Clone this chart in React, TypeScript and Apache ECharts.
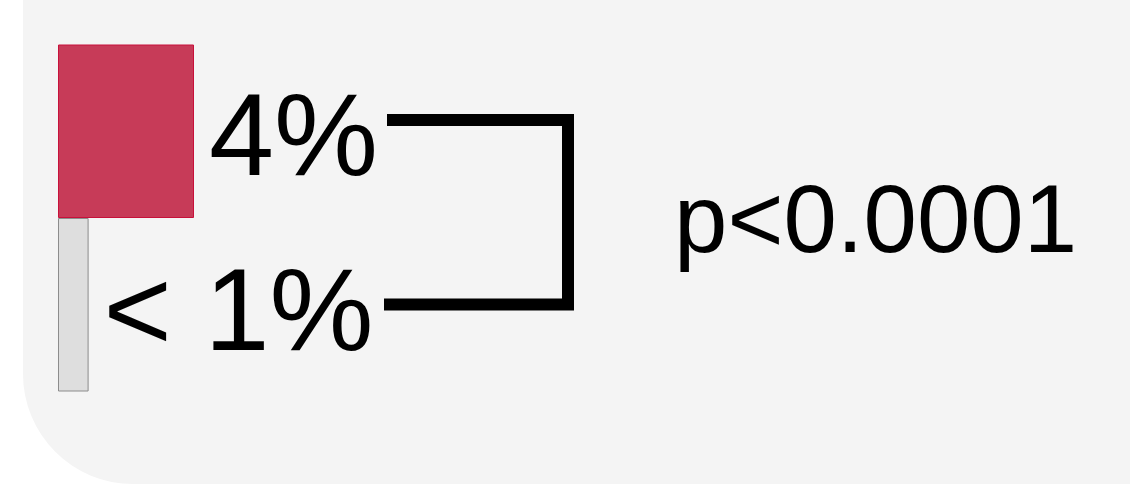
import React, { useEffect, useRef } from "react";
import * as echarts from "echarts";

const categories = ["4%", "< 1%"];
const values = [4, 0.9];
const barColors = ["#c73b58", "#dedede"];
const borderColors = ["#c8103a", "#8c8c8c"];
const labelOffsetsY = [3, 5];
const pValueText = "p<0.0001";

export default function App() {
  const ref = useRef<HTMLDivElement>(null);
  useEffect(() => {
    if (!ref.current) return;
    const chart = echarts.init(ref.current, undefined, { renderer: "svg" });
    const font = "'Liberation Sans', Arial, sans-serif";
    chart.setOption({
      animation: false,
      backgroundColor: "#ffffff",
      grid: { left: 58, top: 44.5, width: 340, height: 347, containLabel: false },
      xAxis: { type: "value", min: 0, max: 10, show: false },
      yAxis: { type: "category", data: categories, inverse: true, show: false },
      graphic: [
        {
          type: "rect",
          z: -10,
          shape: { x: 23, y: -200, width: 1300, height: 684, r: [0, 0, 0, 110] },
          style: { fill: "#f4f4f4" },
          silent: true,
        },
        {
          type: "polyline",
          shape: { points: [[387, 120], [568, 120], [568, 304.5], [384, 304.5]] },
          style: { stroke: "#000", lineWidth: 12, lineJoin: "miter", fill: "none" },
          silent: true,
        },
        {
          type: "text",
          x: 674,
          y: 218.7,
          style: {
            text: pValueText,
            fontSize: 96,
            fontFamily: font,
            fill: "#000",
            verticalAlign: "middle",
            align: "left",
          },
          silent: true,
        },
      ],
      series: [
        {
          type: "bar",
          barCategoryGap: "0%",
          data: values.map((v, i) => ({
            value: v,
            itemStyle: { color: barColors[i], borderColor: borderColors[i], borderWidth: 1 },
            label: { offset: [0, labelOffsetsY[i]] },
          })),
          label: {
            show: true,
            position: "right",
            distance: 15,
            fontSize: 117,
            fontFamily: font,
            color: "#000",
            formatter: (p: any) => categories[p.dataIndex],
          },
          silent: true,
        },
      ],
    });
    return () => chart.dispose();
  }, []);
  return (
    <div
      ref={ref}
      style={{ position: "absolute", left: 0, top: 0, width: 1130, height: 484 }}
    />
  );
}
